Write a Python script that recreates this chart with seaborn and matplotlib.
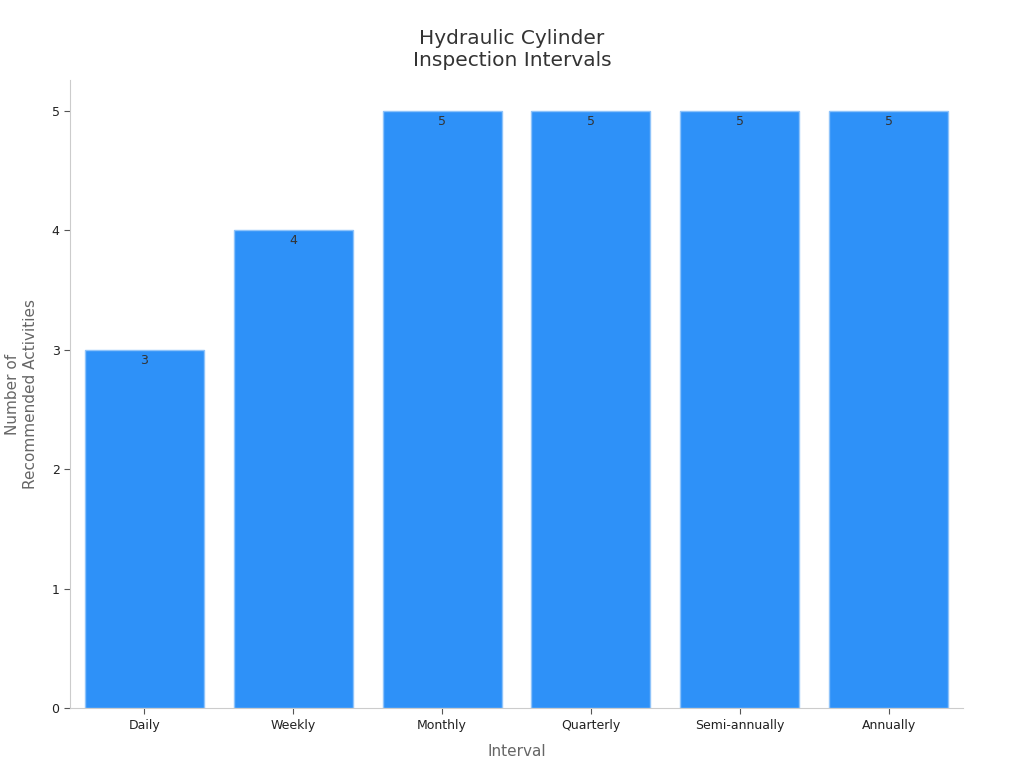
import matplotlib
matplotlib.use("Agg")
import matplotlib.pyplot as plt
import seaborn as sns
import pandas as pd

intervals = ["Daily", "Weekly", "Monthly", "Quarterly", "Semi-annually", "Annually"]
activities = [3, 4, 5, 5, 5, 5]

sns.set_theme(style="ticks")
plt.rcParams['font.family'] = ['DejaVu Sans']

df = pd.DataFrame({"Interval": intervals, "Activities": activities})

fig = plt.figure(figsize=(10.24, 7.68), dpi=100)
ax = fig.add_axes([0.0684, 0.078, 0.872, 0.8178])

sns.barplot(data=df, x="Interval", y="Activities", color="#2E91F8", saturation=1,
            width=0.8, edgecolor="#8EC3FA", linewidth=1, ax=ax)

for container in ax.containers:
    ax.bar_label(container, labels=[str(v) for v in activities], padding=-12,
                 fontsize=9, color="#333333")

ax.set_xlim(-0.5, 5.5)
ax.set_ylim(0, 5.26)
ax.set_yticks([0, 1, 2, 3, 4, 5])
ax.tick_params(axis="both", labelsize=9, labelcolor="#222222", length=4, width=0.8,
               color="#555555", left=True, bottom=True)
for s in ["top", "right"]:
    ax.spines[s].set_visible(False)
for s in ["left", "bottom"]:
    ax.spines[s].set_color("#CCCCCC")
    ax.spines[s].set_linewidth(0.8)

ax.set_xlabel("Interval", fontsize=11, color="#666666", labelpad=9)
ax.set_ylabel("Number of\nRecommended Activities", fontsize=11, color="#666666", labelpad=10)
ax.set_title("Hydraulic Cylinder\nInspection Intervals", fontsize=14.5, color="#333333",
             pad=10, x=0.495)

fig.savefig("out.png", dpi=100)
